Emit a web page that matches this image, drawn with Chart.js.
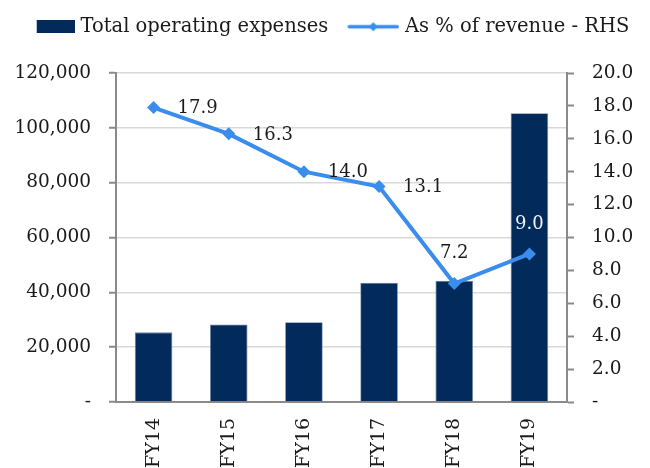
<!DOCTYPE html>
<html><head><meta charset="utf-8">
<script src="https://cdn.jsdelivr.net/npm/chart.js@4.4.0/dist/chart.umd.min.js"></script>
<style>html,body{margin:0;padding:0;background:#fff}#wrap{width:650px;height:468px}</style>
</head><body><div id="wrap"><canvas id="c" width="650" height="468"></canvas></div>
<script>
const categories = ['FY14', 'FY15', 'FY16', 'FY17', 'FY18', 'FY19'];
const opexValues = [25400, 28300, 29100, 43500, 44200, 105300];
const pctOfRevenue = [17.9, 16.3, 14.0, 13.1, 7.2, 9.0];
const leftTicks = [0, 20000, 40000, 60000, 80000, 100000, 120000];
const rightTicks = [0, 2, 4, 6, 8, 10, 12, 14, 16, 18, 20];
const seriesNames = ['Total operating expenses', 'As % of revenue - RHS'];

const NAVY = '#022b5c';
const BLUE = '#3a8ded';
const AXIS = '#8a8a8a';
const TEXT = '#1a1a1a';
const FAMILY = 'DejaVu Serif';
const LEGEND_FONT = {family: FAMILY, size: 19.5};
const TICK_FONT = {family: FAMILY, size: 18.5};
const X_FONT = {family: FAMILY, size: 19};
const LABEL_SIZE = 18;

function makeRectIcon() {
  const c = document.createElement('canvas');
  c.width = 58; c.height = 13;
  const g = c.getContext('2d');
  g.fillStyle = NAVY;
  g.fillRect(20, 0, 38, 13);
  return c;
}
function makeLineIcon() {
  const c = document.createElement('canvas');
  c.width = 58; c.height = 13;
  const g = c.getContext('2d');
  g.strokeStyle = BLUE; g.lineWidth = 3.5; g.lineCap = 'round';
  g.beginPath(); g.moveTo(8, 6.5); g.lineTo(56, 6.5); g.stroke();
  g.fillStyle = BLUE;
  g.beginPath(); g.moveTo(32, 2); g.lineTo(36.5, 6.5); g.lineTo(32, 11); g.lineTo(27.5, 6.5); g.closePath(); g.fill();
  return c;
}
const icons = [makeRectIcon(), makeLineIcon()];

const legendSpacer = {
  id: 'legendSpacer',
  beforeLayout(chart) {
    const lg = chart.legend;
    if (lg && !lg._spaced) {
      const f = lg.fit.bind(lg);
      lg.fit = function () { f(); this.height += 26.5; };
      lg._spaced = true;
    }
  }
};

const pointLabels = {
  id: 'pointLabels',
  afterDatasetsDraw(chart, args, opts) {
    const ctx = chart.ctx;
    const meta = chart.getDatasetMeta(1);
    ctx.save();
    ctx.font = `${LABEL_SIZE}px "${FAMILY}"`;
    ctx.textBaseline = 'middle';
    meta.data.forEach((pt, i) => {
      const txt = pctOfRevenue[i].toFixed(1);
      ctx.fillStyle = opts.colors[i];
      if (opts.placement[i] === 'right') {
        ctx.textAlign = 'left';
        ctx.fillText(txt, pt.x + 24, pt.y + 1);
      } else {
        ctx.textAlign = 'center';
        ctx.fillText(txt, pt.x, pt.y - 30);
      }
    });
    ctx.restore();
  }
};

new Chart(document.getElementById('c'), {
  data: {
    labels: categories,
    datasets: [
      {
        type: 'bar',
        label: seriesNames[0],
        data: opexValues,
        backgroundColor: NAVY,
        borderColor: '#6f86a6',
        borderWidth: 0.8,
        barPercentage: 0.5,
        categoryPercentage: 1.0,
        yAxisID: 'y',
        order: 2
      },
      {
        type: 'line',
        label: seriesNames[1],
        data: pctOfRevenue,
        borderColor: BLUE,
        backgroundColor: BLUE,
        borderWidth: 4,
        pointStyle: 'rectRot',
        pointRadius: 6.5,
        pointBorderWidth: 0,
        pointBackgroundColor: BLUE,
        tension: 0,
        yAxisID: 'y1',
        order: 1
      }
    ]
  },
  options: {
    responsive: false,
    animation: false,
    devicePixelRatio: 1,
    layout: {padding: {left: 0, right: 0, top: 0, bottom: 0}},
    plugins: {
      tooltip: {enabled: false},
      legend: {
        position: 'top',
        labels: {
          usePointStyle: true,
          pointStyleWidth: 50,
          font: LEGEND_FONT,
          color: TEXT,
          padding: 17,
          sort: (a, b) => a.datasetIndex - b.datasetIndex,
          generateLabels: (chart) => chart.data.datasets.map((ds, i) => ({
            text: ds.label,
            datasetIndex: i,
            pointStyle: icons[i],
            fillStyle: 'rgba(0,0,0,0)',
            strokeStyle: 'rgba(0,0,0,0)',
            lineWidth: 0,
            fontColor: TEXT,
            hidden: false
          }))
        }
      },
      pointLabels: {
        placement: ['right', 'right', 'right', 'right', 'above', 'above'],
        colors: [TEXT, TEXT, TEXT, TEXT, TEXT, '#f2f2f2']
      }
    },
    scales: {
      x: {
        grid: {display: false, drawTicks: false},
        border: {display: true, color: AXIS, width: 2},
        ticks: {minRotation: 90, maxRotation: 90, padding: 16, font: X_FONT, color: TEXT},
        afterFit(s) { s.height = 66; }
      },
      y: {
        position: 'left',
        min: leftTicks[0],
        max: leftTicks[leftTicks.length - 1],
        afterBuildTicks(s) { s.ticks = leftTicks.map(v => ({value: v})); },
        ticks: {
          padding: 18, font: TICK_FONT, color: TEXT,
          callback: v => v === 0 ? '-' : v.toLocaleString('en-US')
        },
        grid: {color: '#d9d9d9', lineWidth: 1.5, tickColor: AXIS, tickLength: 7, tickWidth: 2},
        border: {color: AXIS, width: 2},
        afterFit(s) { s.width = 116; }
      },
      y1: {
        position: 'right',
        min: rightTicks[0],
        max: rightTicks[rightTicks.length - 1],
        afterBuildTicks(s) { s.ticks = rightTicks.map(v => ({value: v})); },
        ticks: {
          padding: 18, font: TICK_FONT, color: TEXT,
          callback: v => v === 0 ? '-' : v.toFixed(1)
        },
        grid: {drawOnChartArea: false, tickColor: AXIS, tickLength: 7, tickWidth: 2},
        border: {color: AXIS, width: 2},
        afterFit(s) { s.width = 83; }
      }
    }
  },
  plugins: [legendSpacer, pointLabels]
});
</script>
</body></html>
